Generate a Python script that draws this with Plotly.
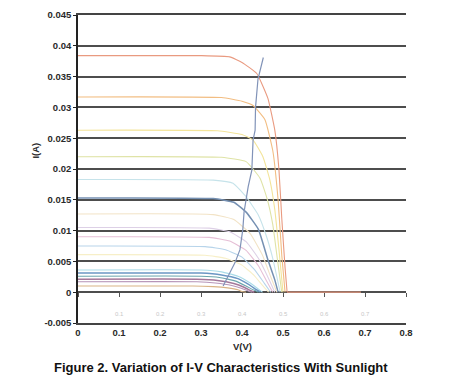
import plotly.graph_objects as go

# ---- data ----
y_tickvals = [-0.005, 0, 0.005, 0.01, 0.015, 0.02, 0.025, 0.03, 0.035, 0.04, 0.045]
y_ticktext = ["-0.005", "0", "0.005", "0.01", "0.015", "0.02", "0.025", "0.03", "0.035", "0.04", "0.045"]
x_tickvals = [0, 0.1, 0.2, 0.3, 0.4, 0.5, 0.6, 0.7, 0.8]
x_ticktext = ["0", "0.1", "0.2", "0.3", "0.4", "0.5", "0.6", "0.7", "0.8"]

curve_colors = ["#e99a80", "#f2bd82", "#f3e49a", "#dfe3a6", "#c6e3ea", "#7590b2",
                "#f2e3c6", "#ddd0e6", "#e6bfd6", "#b7d4ea", "#f7efc8", "#a9dbe8",
                "#6b96c4", "#6aa5ad", "#a4789a", "#b795b8", "#d9b385"]

v1 = [0, 0.30, 0.37, 0.40, 0.436, 0.463, 0.48, 0.49, 0.497, 0.505, 0.51]
i1 = [0.0384, 0.0384, 0.0382, 0.0373, 0.0355, 0.0315, 0.0263, 0.020, 0.012, 0.004, 0]
tail_v = [0.51, 0.69]
tail_i = [0, 0]
v2 = [0, 0.35, 0.40, 0.427, 0.456, 0.475, 0.488, 0.497, 0.505]
i2 = [0.0317, 0.0316, 0.0310, 0.0303, 0.0280, 0.0230, 0.0150, 0.0060, 0]
v3 = [0, 0.34, 0.40, 0.427, 0.451, 0.468, 0.48, 0.49, 0.50]
i3 = [0.0263, 0.0262, 0.0256, 0.0247, 0.0220, 0.0182, 0.0134, 0.0070, 0]
v4 = [0, 0.35, 0.41, 0.444, 0.462, 0.475, 0.487, 0.497]
i4 = [0.0220, 0.0219, 0.0212, 0.0185, 0.0150, 0.0110, 0.0050, 0]
v5 = [0, 0.33, 0.378, 0.41, 0.44, 0.46, 0.475, 0.485, 0.493]
i5 = [0.0183, 0.0182, 0.0177, 0.0155, 0.0125, 0.0090, 0.0055, 0.0025, 0]
v6 = [0, 0.33, 0.38, 0.41, 0.44, 0.463, 0.48, 0.488]
i6 = [0.0153, 0.0152, 0.0146, 0.0130, 0.0102, 0.0053, 0.0020, 0]
v7 = [0, 0.33, 0.38, 0.42, 0.45, 0.47, 0.485]
i7 = [0.0127, 0.0126, 0.0118, 0.0095, 0.0060, 0.0025, 0]
v8 = [0, 0.32, 0.37, 0.41, 0.44, 0.465, 0.48]
i8 = [0.0105, 0.0104, 0.0098, 0.0082, 0.0055, 0.0022, 0]
v9 = [0, 0.32, 0.37, 0.41, 0.44, 0.46, 0.475]
i9 = [0.0090, 0.0089, 0.0083, 0.0068, 0.0043, 0.0018, 0]
v10 = [0, 0.31, 0.36, 0.40, 0.43, 0.455, 0.47]
i10 = [0.0075, 0.0074, 0.0069, 0.0057, 0.0037, 0.0014, 0]
v11 = [0, 0.31, 0.36, 0.40, 0.43, 0.45, 0.465]
i11 = [0.0061, 0.0060, 0.0055, 0.0044, 0.0027, 0.0011, 0]
v12 = [0, 0.30, 0.35, 0.39, 0.42, 0.44, 0.45]
i12 = [0.0036, 0.0036, 0.0033, 0.0026, 0.0015, 0.0005, 0]
v13 = [0, 0.30, 0.35, 0.39, 0.415, 0.435, 0.445]
i13 = [0.0031, 0.0031, 0.0028, 0.0022, 0.0013, 0.0004, 0]
v14 = [0, 0.30, 0.345, 0.385, 0.41, 0.43, 0.44]
i14 = [0.0026, 0.0026, 0.0024, 0.0018, 0.0010, 0.0003, 0]
v15 = [0, 0.29, 0.34, 0.38, 0.405, 0.42, 0.43]
i15 = [0.0021, 0.0021, 0.0019, 0.0014, 0.0008, 0.0003, 0]
v16 = [0, 0.29, 0.335, 0.375, 0.40, 0.415, 0.425]
i16 = [0.0017, 0.0017, 0.0015, 0.0011, 0.0006, 0.0002, 0]
v17 = [0, 0.28, 0.33, 0.365, 0.39, 0.40, 0.41]
i17 = [0.0010, 0.0010, 0.0009, 0.0007, 0.0004, 0.0001, 0]

locus_v = [0.354, 0.362, 0.370, 0.383, 0.395, 0.402, 0.405, 0.410, 0.415, 0.424, 0.427, 0.432, 0.433, 0.439, 0.452]
locus_i = [0.0010, 0.0021, 0.0032, 0.0048, 0.0069, 0.0102, 0.0130, 0.0150, 0.0171, 0.0198, 0.0247, 0.0263, 0.0300, 0.0346, 0.0381]

curves_v = [v1, v2, v3, v4, v5, v6, v7, v8, v9, v10, v11, v12, v13, v14, v15, v16, v17]
curves_i = [i1, i2, i3, i4, i5, i6, i7, i8, i9, i10, i11, i12, i13, i14, i15, i16, i17]

fig = go.Figure()
fig.add_trace(go.Scatter(x=tail_v, y=tail_i, mode="lines",
                         line=dict(color=curve_colors[0], width=1.2),
                         showlegend=False, hoverinfo="skip"))
for k, (vv, ii) in enumerate(zip(curves_v, curves_i)):
    w = 1.5 if k in (5, 12, 14) else 1.1
    fig.add_trace(go.Scatter(x=vv, y=ii, mode="lines",
                             line=dict(color=curve_colors[k], width=w, shape="spline", smoothing=0.4),
                             showlegend=False, hoverinfo="skip"))

fig.add_trace(go.Scatter(x=locus_v, y=locus_i, mode="lines",
                         line=dict(color="#8193b8", width=1.2),
                         showlegend=False, hoverinfo="skip"))

# faint ghost tick labels near bottom
for xv, xt in zip(x_tickvals[1:-1], x_ticktext[1:-1]):
    fig.add_annotation(x=xv, y=-0.0036, text=xt, showarrow=False,
                       font=dict(family="Liberation Sans", size=6, color="#c8c8c8"))

tick_font = dict(family="Liberation Sans, Arial", size=9.5, color="#2a2a2a", weight="bold")

fig.add_annotation(text="I(A)", xref="paper", yref="paper", x=-0.131, y=0.56,
                   xanchor="center", yanchor="middle",
                   textangle=-90, showarrow=False, font=tick_font)
fig.add_annotation(text="V(V)", xref="paper", yref="paper", x=0.5, y=-0.053,
                   yanchor="top", showarrow=False, font=tick_font)
fig.add_annotation(text="Figure 2. Variation of I-V Characteristics With Sunlight",
                   xref="paper", yref="paper", x=0.435, y=-0.115, xanchor="center", yanchor="top",
                   showarrow=False,
                   font=dict(family="Liberation Sans, Arial", size=13, color="#111111", weight="bold"))

# page body has an 8px offset; margins compensate so the plot sits at (78..406, 15..323)
fig.update_layout(
    width=449, height=388,
    margin=dict(l=70, r=51, t=7, b=73, autoexpand=False),
    paper_bgcolor="white", plot_bgcolor="white",
    showlegend=False,
    xaxis=dict(range=[0, 0.8], tickvals=x_tickvals, ticktext=x_ticktext,
               tickfont=tick_font, showgrid=False, zeroline=False, automargin=False,
               showline=True, linecolor="#444444", linewidth=2, mirror=True,
               ticks="", ticklen=0),
    xaxis2=dict(range=[0, 0.8], tickvals=x_tickvals, overlaying="x", anchor="free",
                position=0.1, showticklabels=False, ticks="outside", ticklen=4,
                tickcolor="#555555", showline=False, showgrid=False, zeroline=False,
                automargin=False),
    yaxis=dict(range=[-0.005, 0.045], tickvals=y_tickvals, ticktext=y_ticktext,
               tickfont=tick_font, showgrid=True, gridcolor="#4d4d4d", gridwidth=1.6,
               zeroline=False, showline=True, linecolor="#222222", linewidth=1.5,
               ticks="outside", ticklen=3, tickcolor="#222222", automargin=False),
)
fig.add_trace(go.Scatter(x=[0], y=[0], xaxis="x2", mode="markers", marker=dict(opacity=0),
                         showlegend=False, hoverinfo="skip"))

fig.write_html("out.html")
